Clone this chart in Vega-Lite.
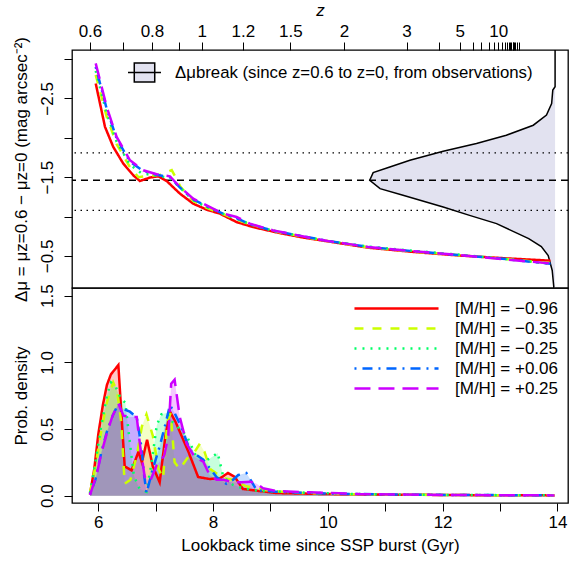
{
  "$schema": "https://vega.github.io/schema/vega-lite/v6.json",
  "padding": {"left": 11, "top": 0, "right": 4, "bottom": 4},
  "spacing": 0,
  "bounds": "flush",
  "config": {
    "font": "Liberation Sans",
    "view": {"stroke": "black", "strokeWidth": 1.3},
    "axis": {"grid": false, "domain": false, "tickColor": "black", "tickSize": 8, "tickWidth": 1, "labelFontSize": 17, "titleFontSize": 17, "labelColor": "black", "titleColor": "black", "titleFontWeight": "normal", "labelFont": "Liberation Sans", "titleFont": "Liberation Sans", "labelOverlap": false, "labelFlush": false},
    "legend": {"labelFontSize": 17, "labelColor": "black", "labelFont": "Liberation Sans", "padding": 0, "labelLimit": 600}
  },
  "datasets": {
    "dens": [
      {"t": 13.96, "d": -3.115}, {"t": 13.96, "d": -2.648}, {"t": 13.92, "d": -2.606}, {"t": 13.90, "d": -2.436},
      {"t": 13.81, "d": -2.288}, {"t": 13.58, "d": -2.160}, {"t": 13.11, "d": -2.033}, {"t": 12.59, "d": -1.927},
      {"t": 12.01, "d": -1.830}, {"t": 11.43, "d": -1.715}, {"t": 11.08, "d": -1.630}, {"t": 10.79, "d": -1.558},
      {"t": 10.73, "d": -1.461}, {"t": 10.91, "d": -1.355}, {"t": 11.31, "d": -1.270}, {"t": 12.01, "d": -1.121},
      {"t": 12.47, "d": -1.015}, {"t": 12.94, "d": -0.910}, {"t": 13.50, "d": -0.720}, {"t": 13.72, "d": -0.620},
      {"t": 13.84, "d": -0.506}, {"t": 13.91, "d": -0.316}, {"t": 13.94, "d": -0.087}
    ],
    "refs": [
      {"d": -1.808, "k": "sd"}, {"d": -1.461, "k": "mean"}, {"d": -1.079, "k": "sd"}
    ],
    "top": [
      {"m": "[M/H] = −0.96", "t": 5.955, "d": -2.691}, {"m": "[M/H] = −0.96", "t": 6.117, "d": -2.139},
      {"m": "[M/H] = −0.96", "t": 6.261, "d": -1.884}, {"m": "[M/H] = −0.96", "t": 6.435, "d": -1.673},
      {"m": "[M/H] = −0.96", "t": 6.610, "d": -1.524}, {"m": "[M/H] = −0.96", "t": 6.726, "d": -1.452},
      {"m": "[M/H] = −0.96", "t": 6.900, "d": -1.495}, {"m": "[M/H] = −0.96", "t": 7.045, "d": -1.511},
      {"m": "[M/H] = −0.96", "t": 7.191, "d": -1.452}, {"m": "[M/H] = −0.96", "t": 7.423, "d": -1.291},
      {"m": "[M/H] = −0.96", "t": 7.654, "d": -1.164}, {"m": "[M/H] = −0.96", "t": 7.888, "d": -1.088},
      {"m": "[M/H] = −0.96", "t": 8.119, "d": -1.037}, {"m": "[M/H] = −0.96", "t": 8.410, "d": -0.930},
      {"m": "[M/H] = −0.96", "t": 8.699, "d": -0.866}, {"m": "[M/H] = −0.96", "t": 9.164, "d": -0.790},
      {"m": "[M/H] = −0.96", "t": 9.6, "d": -0.73}, {"m": "[M/H] = −0.96", "t": 10.0, "d": -0.685},
      {"m": "[M/H] = −0.96", "t": 10.7, "d": -0.605}, {"m": "[M/H] = −0.96", "t": 11.5, "d": -0.55},
      {"m": "[M/H] = −0.96", "t": 12.3, "d": -0.505}, {"m": "[M/H] = −0.96", "t": 13.1, "d": -0.47},
      {"m": "[M/H] = −0.96", "t": 13.88, "d": -0.44},

      {"m": "[M/H] = −0.35", "t": 5.955, "d": -2.80}, {"m": "[M/H] = −0.35", "t": 6.146, "d": -2.27},
      {"m": "[M/H] = −0.35", "t": 6.32, "d": -1.92}, {"m": "[M/H] = −0.35", "t": 6.55, "d": -1.63},
      {"m": "[M/H] = −0.35", "t": 6.70, "d": -1.50}, {"m": "[M/H] = −0.35", "t": 6.90, "d": -1.52},
      {"m": "[M/H] = −0.35", "t": 7.10, "d": -1.53}, {"m": "[M/H] = −0.35", "t": 7.28, "d": -1.59},
      {"m": "[M/H] = −0.35", "t": 7.36, "d": -1.48}, {"m": "[M/H] = −0.35", "t": 7.43, "d": -1.38},
      {"m": "[M/H] = −0.35", "t": 7.65, "d": -1.20}, {"m": "[M/H] = −0.35", "t": 7.89, "d": -1.11},
      {"m": "[M/H] = −0.35", "t": 8.18, "d": -1.03}, {"m": "[M/H] = −0.35", "t": 8.41, "d": -0.96},
      {"m": "[M/H] = −0.35", "t": 8.70, "d": -0.89}, {"m": "[M/H] = −0.35", "t": 9.16, "d": -0.80},
      {"m": "[M/H] = −0.35", "t": 9.6, "d": -0.74}, {"m": "[M/H] = −0.35", "t": 10.0, "d": -0.69},
      {"m": "[M/H] = −0.35", "t": 10.7, "d": -0.61}, {"m": "[M/H] = −0.35", "t": 11.5, "d": -0.555},
      {"m": "[M/H] = −0.35", "t": 12.3, "d": -0.51}, {"m": "[M/H] = −0.35", "t": 13.1, "d": -0.46},
      {"m": "[M/H] = −0.35", "t": 13.88, "d": -0.41},

      {"m": "[M/H] = −0.25", "t": 5.955, "d": -2.85}, {"m": "[M/H] = −0.25", "t": 6.146, "d": -2.31},
      {"m": "[M/H] = −0.25", "t": 6.32, "d": -1.95}, {"m": "[M/H] = −0.25", "t": 6.55, "d": -1.66},
      {"m": "[M/H] = −0.25", "t": 6.75, "d": -1.55}, {"m": "[M/H] = −0.25", "t": 7.0, "d": -1.52},
      {"m": "[M/H] = −0.25", "t": 7.25, "d": -1.49}, {"m": "[M/H] = −0.25", "t": 7.42, "d": -1.37},
      {"m": "[M/H] = −0.25", "t": 7.65, "d": -1.21}, {"m": "[M/H] = −0.25", "t": 7.89, "d": -1.12},
      {"m": "[M/H] = −0.25", "t": 8.18, "d": -1.035}, {"m": "[M/H] = −0.25", "t": 8.41, "d": -0.97},
      {"m": "[M/H] = −0.25", "t": 8.70, "d": -0.89}, {"m": "[M/H] = −0.25", "t": 9.1, "d": -0.81},
      {"m": "[M/H] = −0.25", "t": 9.6, "d": -0.745}, {"m": "[M/H] = −0.25", "t": 10.0, "d": -0.69},
      {"m": "[M/H] = −0.25", "t": 10.7, "d": -0.62}, {"m": "[M/H] = −0.25", "t": 11.5, "d": -0.565},
      {"m": "[M/H] = −0.25", "t": 12.3, "d": -0.515}, {"m": "[M/H] = −0.25", "t": 13.1, "d": -0.46},
      {"m": "[M/H] = −0.25", "t": 13.88, "d": -0.40},

      {"m": "[M/H] = +0.06", "t": 5.955, "d": -2.90}, {"m": "[M/H] = +0.06", "t": 6.146, "d": -2.37},
      {"m": "[M/H] = +0.06", "t": 6.32, "d": -1.99}, {"m": "[M/H] = +0.06", "t": 6.55, "d": -1.70},
      {"m": "[M/H] = +0.06", "t": 6.78, "d": -1.58}, {"m": "[M/H] = +0.06", "t": 7.02, "d": -1.53},
      {"m": "[M/H] = +0.06", "t": 7.25, "d": -1.50}, {"m": "[M/H] = +0.06", "t": 7.42, "d": -1.37},
      {"m": "[M/H] = +0.06", "t": 7.65, "d": -1.22}, {"m": "[M/H] = +0.06", "t": 7.89, "d": -1.13},
      {"m": "[M/H] = +0.06", "t": 8.18, "d": -1.035}, {"m": "[M/H] = +0.06", "t": 8.41, "d": -0.98},
      {"m": "[M/H] = +0.06", "t": 8.65, "d": -0.90}, {"m": "[M/H] = +0.06", "t": 9.05, "d": -0.82},
      {"m": "[M/H] = +0.06", "t": 9.6, "d": -0.745}, {"m": "[M/H] = +0.06", "t": 10.0, "d": -0.69},
      {"m": "[M/H] = +0.06", "t": 10.7, "d": -0.615}, {"m": "[M/H] = +0.06", "t": 11.5, "d": -0.56},
      {"m": "[M/H] = +0.06", "t": 12.3, "d": -0.51}, {"m": "[M/H] = +0.06", "t": 13.1, "d": -0.46},
      {"m": "[M/H] = +0.06", "t": 13.88, "d": -0.40},

      {"m": "[M/H] = +0.25", "t": 5.955, "d": -2.945}, {"m": "[M/H] = +0.25", "t": 6.146, "d": -2.393},
      {"m": "[M/H] = +0.25", "t": 6.320, "d": -2.011}, {"m": "[M/H] = +0.25", "t": 6.552, "d": -1.715},
      {"m": "[M/H] = +0.25", "t": 6.784, "d": -1.588}, {"m": "[M/H] = +0.25", "t": 7.017, "d": -1.537},
      {"m": "[M/H] = +0.25", "t": 7.249, "d": -1.511}, {"m": "[M/H] = +0.25", "t": 7.423, "d": -1.375},
      {"m": "[M/H] = +0.25", "t": 7.654, "d": -1.228}, {"m": "[M/H] = +0.25", "t": 7.888, "d": -1.142},
      {"m": "[M/H] = +0.25", "t": 8.177, "d": -1.037}, {"m": "[M/H] = +0.25", "t": 8.410, "d": -0.994},
      {"m": "[M/H] = +0.25", "t": 8.642, "d": -0.910}, {"m": "[M/H] = +0.25", "t": 9.048, "d": -0.824},
      {"m": "[M/H] = +0.25", "t": 9.6, "d": -0.745}, {"m": "[M/H] = +0.25", "t": 10.0, "d": -0.69},
      {"m": "[M/H] = +0.25", "t": 10.7, "d": -0.615}, {"m": "[M/H] = +0.25", "t": 11.5, "d": -0.56},
      {"m": "[M/H] = +0.25", "t": 12.3, "d": -0.51}, {"m": "[M/H] = +0.25", "t": 13.1, "d": -0.455},
      {"m": "[M/H] = +0.25", "t": 13.88, "d": -0.405}
    ],
    "bot": [
      {"m": "[M/H] = −0.96", "t": 5.855, "p": 0.01}, {"m": "[M/H] = −0.96", "t": 5.93, "p": 0.20},
      {"m": "[M/H] = −0.96", "t": 6.0, "p": 0.46}, {"m": "[M/H] = −0.96", "t": 6.08, "p": 0.68},
      {"m": "[M/H] = −0.96", "t": 6.15, "p": 0.83}, {"m": "[M/H] = −0.96", "t": 6.22, "p": 0.91},
      {"m": "[M/H] = −0.96", "t": 6.35, "p": 0.98}, {"m": "[M/H] = −0.96", "t": 6.46, "p": 0.22},
      {"m": "[M/H] = −0.96", "t": 6.58, "p": 0.19}, {"m": "[M/H] = −0.96", "t": 6.70, "p": 0.33},
      {"m": "[M/H] = −0.96", "t": 6.76, "p": 0.25}, {"m": "[M/H] = −0.96", "t": 6.85, "p": 0.42},
      {"m": "[M/H] = −0.96", "t": 6.95, "p": 0.22}, {"m": "[M/H] = −0.96", "t": 7.07, "p": 0.10},
      {"m": "[M/H] = −0.96", "t": 7.17, "p": 0.45}, {"m": "[M/H] = −0.96", "t": 7.25, "p": 0.63},
      {"m": "[M/H] = −0.96", "t": 7.35, "p": 0.55}, {"m": "[M/H] = −0.96", "t": 7.45, "p": 0.45},
      {"m": "[M/H] = −0.96", "t": 7.57, "p": 0.33}, {"m": "[M/H] = −0.96", "t": 7.74, "p": 0.14},
      {"m": "[M/H] = −0.96", "t": 7.94, "p": 0.125}, {"m": "[M/H] = −0.96", "t": 8.12, "p": 0.13},
      {"m": "[M/H] = −0.96", "t": 8.26, "p": 0.17}, {"m": "[M/H] = −0.96", "t": 8.38, "p": 0.14},
      {"m": "[M/H] = −0.96", "t": 8.52, "p": 0.05}, {"m": "[M/H] = −0.96", "t": 8.81, "p": 0.035},
      {"m": "[M/H] = −0.96", "t": 9.1, "p": 0.02}, {"m": "[M/H] = −0.96", "t": 10.0, "p": 0.012},
      {"m": "[M/H] = −0.96", "t": 11.1, "p": 0.008}, {"m": "[M/H] = −0.96", "t": 12.5, "p": 0.004},
      {"m": "[M/H] = −0.96", "t": 13.95, "p": 0.002},

      {"m": "[M/H] = −0.35", "t": 5.855, "p": 0.02}, {"m": "[M/H] = −0.35", "t": 5.95, "p": 0.22},
      {"m": "[M/H] = −0.35", "t": 6.05, "p": 0.48}, {"m": "[M/H] = −0.35", "t": 6.15, "p": 0.70},
      {"m": "[M/H] = −0.35", "t": 6.26, "p": 0.85}, {"m": "[M/H] = −0.35", "t": 6.33, "p": 0.78},
      {"m": "[M/H] = −0.35", "t": 6.40, "p": 0.55}, {"m": "[M/H] = −0.35", "t": 6.46, "p": 0.09},
      {"m": "[M/H] = −0.35", "t": 6.56, "p": 0.12}, {"m": "[M/H] = −0.35", "t": 6.67, "p": 0.30},
      {"m": "[M/H] = −0.35", "t": 6.76, "p": 0.52}, {"m": "[M/H] = −0.35", "t": 6.84, "p": 0.61},
      {"m": "[M/H] = −0.35", "t": 6.95, "p": 0.45}, {"m": "[M/H] = −0.35", "t": 7.05, "p": 0.20},
      {"m": "[M/H] = −0.35", "t": 7.13, "p": 0.13}, {"m": "[M/H] = −0.35", "t": 7.20, "p": 0.55},
      {"m": "[M/H] = −0.35", "t": 7.26, "p": 0.62}, {"m": "[M/H] = −0.35", "t": 7.33, "p": 0.25},
      {"m": "[M/H] = −0.35", "t": 7.42, "p": 0.20}, {"m": "[M/H] = −0.35", "t": 7.55, "p": 0.28},
      {"m": "[M/H] = −0.35", "t": 7.68, "p": 0.33}, {"m": "[M/H] = −0.35", "t": 7.77, "p": 0.39},
      {"m": "[M/H] = −0.35", "t": 7.85, "p": 0.33}, {"m": "[M/H] = −0.35", "t": 7.95, "p": 0.20},
      {"m": "[M/H] = −0.35", "t": 8.05, "p": 0.17}, {"m": "[M/H] = −0.35", "t": 8.2, "p": 0.13},
      {"m": "[M/H] = −0.35", "t": 8.35, "p": 0.12}, {"m": "[M/H] = −0.35", "t": 8.58, "p": 0.07},
      {"m": "[M/H] = −0.35", "t": 8.93, "p": 0.04}, {"m": "[M/H] = −0.35", "t": 9.4, "p": 0.022},
      {"m": "[M/H] = −0.35", "t": 10.5, "p": 0.01}, {"m": "[M/H] = −0.35", "t": 12.0, "p": 0.005},
      {"m": "[M/H] = −0.35", "t": 13.95, "p": 0.002},

      {"m": "[M/H] = −0.25", "t": 5.855, "p": 0.02}, {"m": "[M/H] = −0.25", "t": 5.95, "p": 0.25},
      {"m": "[M/H] = −0.25", "t": 6.05, "p": 0.52}, {"m": "[M/H] = −0.25", "t": 6.15, "p": 0.75},
      {"m": "[M/H] = −0.25", "t": 6.22, "p": 0.85}, {"m": "[M/H] = −0.25", "t": 6.30, "p": 0.82},
      {"m": "[M/H] = −0.25", "t": 6.40, "p": 0.72}, {"m": "[M/H] = −0.25", "t": 6.47, "p": 0.70},
      {"m": "[M/H] = −0.25", "t": 6.55, "p": 0.40}, {"m": "[M/H] = −0.25", "t": 6.62, "p": 0.15},
      {"m": "[M/H] = −0.25", "t": 6.72, "p": 0.05}, {"m": "[M/H] = −0.25", "t": 6.84, "p": 0.03},
      {"m": "[M/H] = −0.25", "t": 6.93, "p": 0.25}, {"m": "[M/H] = −0.25", "t": 7.02, "p": 0.53},
      {"m": "[M/H] = −0.25", "t": 7.10, "p": 0.61}, {"m": "[M/H] = −0.25", "t": 7.19, "p": 0.62},
      {"m": "[M/H] = −0.25", "t": 7.30, "p": 0.55}, {"m": "[M/H] = −0.25", "t": 7.42, "p": 0.50},
      {"m": "[M/H] = −0.25", "t": 7.54, "p": 0.45}, {"m": "[M/H] = −0.25", "t": 7.70, "p": 0.30},
      {"m": "[M/H] = −0.25", "t": 7.85, "p": 0.26}, {"m": "[M/H] = −0.25", "t": 7.95, "p": 0.28},
      {"m": "[M/H] = −0.25", "t": 8.08, "p": 0.32}, {"m": "[M/H] = −0.25", "t": 8.18, "p": 0.14},
      {"m": "[M/H] = −0.25", "t": 8.35, "p": 0.08}, {"m": "[M/H] = −0.25", "t": 8.52, "p": 0.055},
      {"m": "[M/H] = −0.25", "t": 8.8, "p": 0.035}, {"m": "[M/H] = −0.25", "t": 9.4, "p": 0.025},
      {"m": "[M/H] = −0.25", "t": 10.5, "p": 0.012}, {"m": "[M/H] = −0.25", "t": 12.0, "p": 0.006},
      {"m": "[M/H] = −0.25", "t": 13.95, "p": 0.002},

      {"m": "[M/H] = +0.06", "t": 5.855, "p": 0.01}, {"m": "[M/H] = +0.06", "t": 5.95, "p": 0.12},
      {"m": "[M/H] = +0.06", "t": 6.05, "p": 0.32}, {"m": "[M/H] = +0.06", "t": 6.15, "p": 0.48},
      {"m": "[M/H] = +0.06", "t": 6.25, "p": 0.60}, {"m": "[M/H] = +0.06", "t": 6.35, "p": 0.69},
      {"m": "[M/H] = +0.06", "t": 6.44, "p": 0.65}, {"m": "[M/H] = +0.06", "t": 6.55, "p": 0.63},
      {"m": "[M/H] = +0.06", "t": 6.67, "p": 0.59}, {"m": "[M/H] = +0.06", "t": 6.75, "p": 0.37},
      {"m": "[M/H] = +0.06", "t": 6.80, "p": 0.15}, {"m": "[M/H] = +0.06", "t": 6.84, "p": 0.02},
      {"m": "[M/H] = +0.06", "t": 6.95, "p": 0.20}, {"m": "[M/H] = +0.06", "t": 7.07, "p": 0.37},
      {"m": "[M/H] = +0.06", "t": 7.16, "p": 0.52}, {"m": "[M/H] = +0.06", "t": 7.25, "p": 0.68},
      {"m": "[M/H] = +0.06", "t": 7.33, "p": 0.62}, {"m": "[M/H] = +0.06", "t": 7.42, "p": 0.54},
      {"m": "[M/H] = +0.06", "t": 7.60, "p": 0.34}, {"m": "[M/H] = +0.06", "t": 7.83, "p": 0.27},
      {"m": "[M/H] = +0.06", "t": 8.06, "p": 0.14}, {"m": "[M/H] = +0.06", "t": 8.23, "p": 0.09},
      {"m": "[M/H] = +0.06", "t": 8.35, "p": 0.12}, {"m": "[M/H] = +0.06", "t": 8.44, "p": 0.155},
      {"m": "[M/H] = +0.06", "t": 8.58, "p": 0.17}, {"m": "[M/H] = +0.06", "t": 8.68, "p": 0.10},
      {"m": "[M/H] = +0.06", "t": 8.76, "p": 0.04}, {"m": "[M/H] = +0.06", "t": 9.1, "p": 0.03},
      {"m": "[M/H] = +0.06", "t": 10.0, "p": 0.015}, {"m": "[M/H] = +0.06", "t": 11.5, "p": 0.007},
      {"m": "[M/H] = +0.06", "t": 13.95, "p": 0.002},

      {"m": "[M/H] = +0.25", "t": 5.855, "p": 0.005}, {"m": "[M/H] = +0.25", "t": 5.97, "p": 0.155},
      {"m": "[M/H] = +0.25", "t": 6.06, "p": 0.33}, {"m": "[M/H] = +0.25", "t": 6.15, "p": 0.47},
      {"m": "[M/H] = +0.25", "t": 6.25, "p": 0.60}, {"m": "[M/H] = +0.25", "t": 6.35, "p": 0.69},
      {"m": "[M/H] = +0.25", "t": 6.44, "p": 0.60}, {"m": "[M/H] = +0.25", "t": 6.55, "p": 0.59},
      {"m": "[M/H] = +0.25", "t": 6.67, "p": 0.59}, {"m": "[M/H] = +0.25", "t": 6.73, "p": 0.37},
      {"m": "[M/H] = +0.25", "t": 6.81, "p": 0.14}, {"m": "[M/H] = +0.25", "t": 6.90, "p": 0.105},
      {"m": "[M/H] = +0.25", "t": 7.02, "p": 0.23}, {"m": "[M/H] = +0.25", "t": 7.15, "p": 0.30},
      {"m": "[M/H] = +0.25", "t": 7.22, "p": 0.45}, {"m": "[M/H] = +0.25", "t": 7.27, "p": 0.84},
      {"m": "[M/H] = +0.25", "t": 7.33, "p": 0.87}, {"m": "[M/H] = +0.25", "t": 7.42, "p": 0.59},
      {"m": "[M/H] = +0.25", "t": 7.54, "p": 0.39}, {"m": "[M/H] = +0.25", "t": 7.68, "p": 0.29},
      {"m": "[M/H] = +0.25", "t": 7.83, "p": 0.255}, {"m": "[M/H] = +0.25", "t": 7.94, "p": 0.155},
      {"m": "[M/H] = +0.25", "t": 8.06, "p": 0.12}, {"m": "[M/H] = +0.25", "t": 8.18, "p": 0.12},
      {"m": "[M/H] = +0.25", "t": 8.35, "p": 0.10}, {"m": "[M/H] = +0.25", "t": 8.50, "p": 0.10},
      {"m": "[M/H] = +0.25", "t": 8.65, "p": 0.105}, {"m": "[M/H] = +0.25", "t": 8.76, "p": 0.09},
      {"m": "[M/H] = +0.25", "t": 8.87, "p": 0.055}, {"m": "[M/H] = +0.25", "t": 9.1, "p": 0.035},
      {"m": "[M/H] = +0.25", "t": 9.69, "p": 0.025}, {"m": "[M/H] = +0.25", "t": 10.56, "p": 0.012},
      {"m": "[M/H] = +0.25", "t": 12.0, "p": 0.005}, {"m": "[M/H] = +0.25", "t": 13.95, "p": 0.002}
    ]
  },
  "vconcat": [
    {
      "width": 496,
      "height": 238,
      "layer": [
        {
          "data": {"name": "dens"},
          "mark": {"type": "area", "orient": "horizontal", "clip": true},
          "encoding": {
            "y": {
              "field": "d", "type": "quantitative",
              "scale": {"domain": [-3.115, -0.093], "reverse": true, "nice": false, "zero": false},
              "axis": {
                "title": "Δμ = μz=0.6 − μz=0 (mag arcsec⁻²)",
                "values": [-3, -2.5, -2, -1.5, -1, -0.5],
                "labelExpr": "datum.value == -2.5 ? '−2.5' : datum.value == -1.5 ? '−1.5' : datum.value == -0.5 ? '−0.5' : ''",
                "labelAngle": -90, "labelAlign": "center", "labelBaseline": "bottom",
                "labelPadding": 8, "titlePadding": 8
              }
            },
            "x": {
              "field": "t", "type": "quantitative",
              "scale": {"domain": [5.542, 14.185], "nice": false, "zero": false},
              "axis": {
                "orient": "top", "title": "z", "titleFontStyle": "italic",
                "tickCount": 200,
                "values": [5.855, 6.435, 6.935, 7.409, 7.801, 8.518, 9.346, 10.281, 11.371, 11.939, 12.299, 12.531, 12.677, 12.80, 12.89, 12.97, 13.03, 13.08, 13.12, 13.15, 13.18, 13.20, 13.22, 13.235, 13.25, 13.26, 13.30, 13.33],
                "labelExpr": "datum.value == 5.855 ? '0.6' : datum.value == 6.935 ? '0.8' : datum.value == 7.801 ? '1' : datum.value == 8.518 ? '1.2' : datum.value == 9.346 ? '1.5' : datum.value == 10.281 ? '2' : datum.value == 11.371 ? '3' : datum.value == 12.299 ? '5' : datum.value == 12.97 ? '10' : ''",
                "labelOverlap": false,
                "labelPadding": 2, "titlePadding": 3
              }
            },
            "x2": {"datum": 13.96},
            "fill": {
              "datum": "Δμbreak (since z=0.6 to z=0, from observations)",
              "type": "nominal",
              "scale": {"range": ["#E2E2F0"]},
              "legend": {
                "title": null, "orient": "none", "legendX": 55, "legendY": 5,
                "symbolType": "M-1,0H1M-0.62,-0.58H0.62V0.58H-0.62Z",
                "symbolSize": 1089, "symbolStrokeColor": "black", "symbolStrokeWidth": 1.5,
                "labelOffset": 13, "labelFontSize": 16.8, "labelLimit": 600
              }
            }
          }
        },
        {
          "data": {"name": "dens"},
          "mark": {"type": "line", "color": "black", "strokeWidth": 1.5, "clip": true},
          "encoding": {
            "x": {"field": "t", "type": "quantitative"},
            "y": {"field": "d", "type": "quantitative"},
            "order": {"field": "d", "type": "quantitative"}
          }
        },
        {
          "data": {"name": "refs"},
          "transform": [{"filter": "datum.k == 'sd'"}],
          "mark": {"type": "rule", "color": "black", "strokeWidth": 1.2, "strokeDash": [1.5, 4.5]},
          "encoding": {"y": {"field": "d", "type": "quantitative"}}
        },
        {
          "data": {"name": "refs"},
          "transform": [{"filter": "datum.k == 'mean'"}],
          "mark": {"type": "rule", "color": "black", "strokeWidth": 1.6, "strokeDash": [7, 5]},
          "encoding": {"y": {"field": "d", "type": "quantitative"}}
        },
        {
          "data": {"name": "top"},
          "mark": {"type": "line", "strokeWidth": 2.5, "clip": true},
          "encoding": {
            "x": {"field": "t", "type": "quantitative"},
            "y": {"field": "d", "type": "quantitative"},
            "stroke": {
              "field": "m", "type": "nominal", "legend": null,
              "scale": {"domain": ["[M/H] = −0.96", "[M/H] = −0.35", "[M/H] = −0.25", "[M/H] = +0.06", "[M/H] = +0.25"], "range": ["#FF0000", "#CCFF00", "#00FF66", "#0066FF", "#CC00FF"]}
            },
            "strokeDash": {
              "field": "m", "type": "nominal", "legend": null,
              "scale": {"domain": ["[M/H] = −0.96", "[M/H] = −0.35", "[M/H] = −0.25", "[M/H] = +0.06", "[M/H] = +0.25"], "range": [[1, 0], [9, 9], [2, 6], [2, 6, 10, 6], [16, 8]]}
            }
          }
        }
      ]
    },
    {
      "width": 496,
      "height": 215,
      "data": {"name": "bot"},
      "encoding": {
        "x": {
          "field": "t", "type": "quantitative",
          "scale": {"domain": [5.542, 14.185], "nice": false, "zero": false},
          "axis": {
            "title": "Lookback time since SSP burst (Gyr)",
            "values": [6, 7, 8, 9, 10, 11, 12, 13, 14],
            "labelExpr": "datum.value % 2 == 0 ? datum.label : ''",
            "labelPadding": 3, "titlePadding": 7
          }
        },
        "y": {
          "field": "p", "type": "quantitative", "stack": null,
          "scale": {"domain": [-0.055, 1.558], "nice": false, "zero": false},
          "axis": {
            "title": "Prob. density",
            "values": [0, 0.5, 1, 1.5],
            "labelExpr": "format(datum.value, '.1f')",
            "labelAngle": -90, "labelAlign": "center", "labelBaseline": "bottom",
            "labelPadding": 8, "titlePadding": 8
          }
        }
      },
      "layer": [
        {
          "mark": {"type": "area", "fillOpacity": 0.22, "clip": true},
          "encoding": {
            "fill": {
              "field": "m", "type": "nominal", "legend": null,
              "scale": {"domain": ["[M/H] = +0.25", "[M/H] = +0.06", "[M/H] = −0.25", "[M/H] = −0.35", "[M/H] = −0.96"], "range": ["#CC00FF", "#0066FF", "#00FF66", "#CCFF00", "#FF0000"]}
            }
          }
        },
        {
          "mark": {"type": "line", "strokeWidth": 2.5, "clip": true},
          "encoding": {
            "stroke": {
              "field": "m", "type": "nominal",
              "scale": {"domain": ["[M/H] = −0.96", "[M/H] = −0.35", "[M/H] = −0.25", "[M/H] = +0.06", "[M/H] = +0.25"], "range": ["#FF0000", "#CCFF00", "#00FF66", "#0066FF", "#CC00FF"]},
              "legend": {
                "title": null, "orient": "none", "legendX": 314, "legendY": 10,
                "symbolType": "M-4.67,0H4.67", "symbolSize": 324, "symbolStrokeWidth": 2.5,
                "labelOffset": 48, "rowPadding": 1, "labelFontSize": 17
              }
            },
            "strokeDash": {
              "field": "m", "type": "nominal",
              "scale": {"domain": ["[M/H] = −0.96", "[M/H] = −0.35", "[M/H] = −0.25", "[M/H] = +0.06", "[M/H] = +0.25"], "range": [[1, 0], [9, 9], [2, 6], [2, 6, 10, 6], [16, 8]]},
              "legend": {
                "title": null, "orient": "none", "legendX": 314, "legendY": 10,
                "symbolType": "M-4.67,0H4.67", "symbolSize": 324, "symbolStrokeWidth": 2.5,
                "labelOffset": 48, "rowPadding": 1, "labelFontSize": 17
              }
            }
          }
        }
      ]
    }
  ],
  "resolve": {
    "scale": {"x": "independent", "y": "independent", "fill": "independent", "stroke": "independent", "strokeDash": "independent"},
    "legend": {"fill": "independent", "stroke": "independent", "strokeDash": "independent"}
  }
}
